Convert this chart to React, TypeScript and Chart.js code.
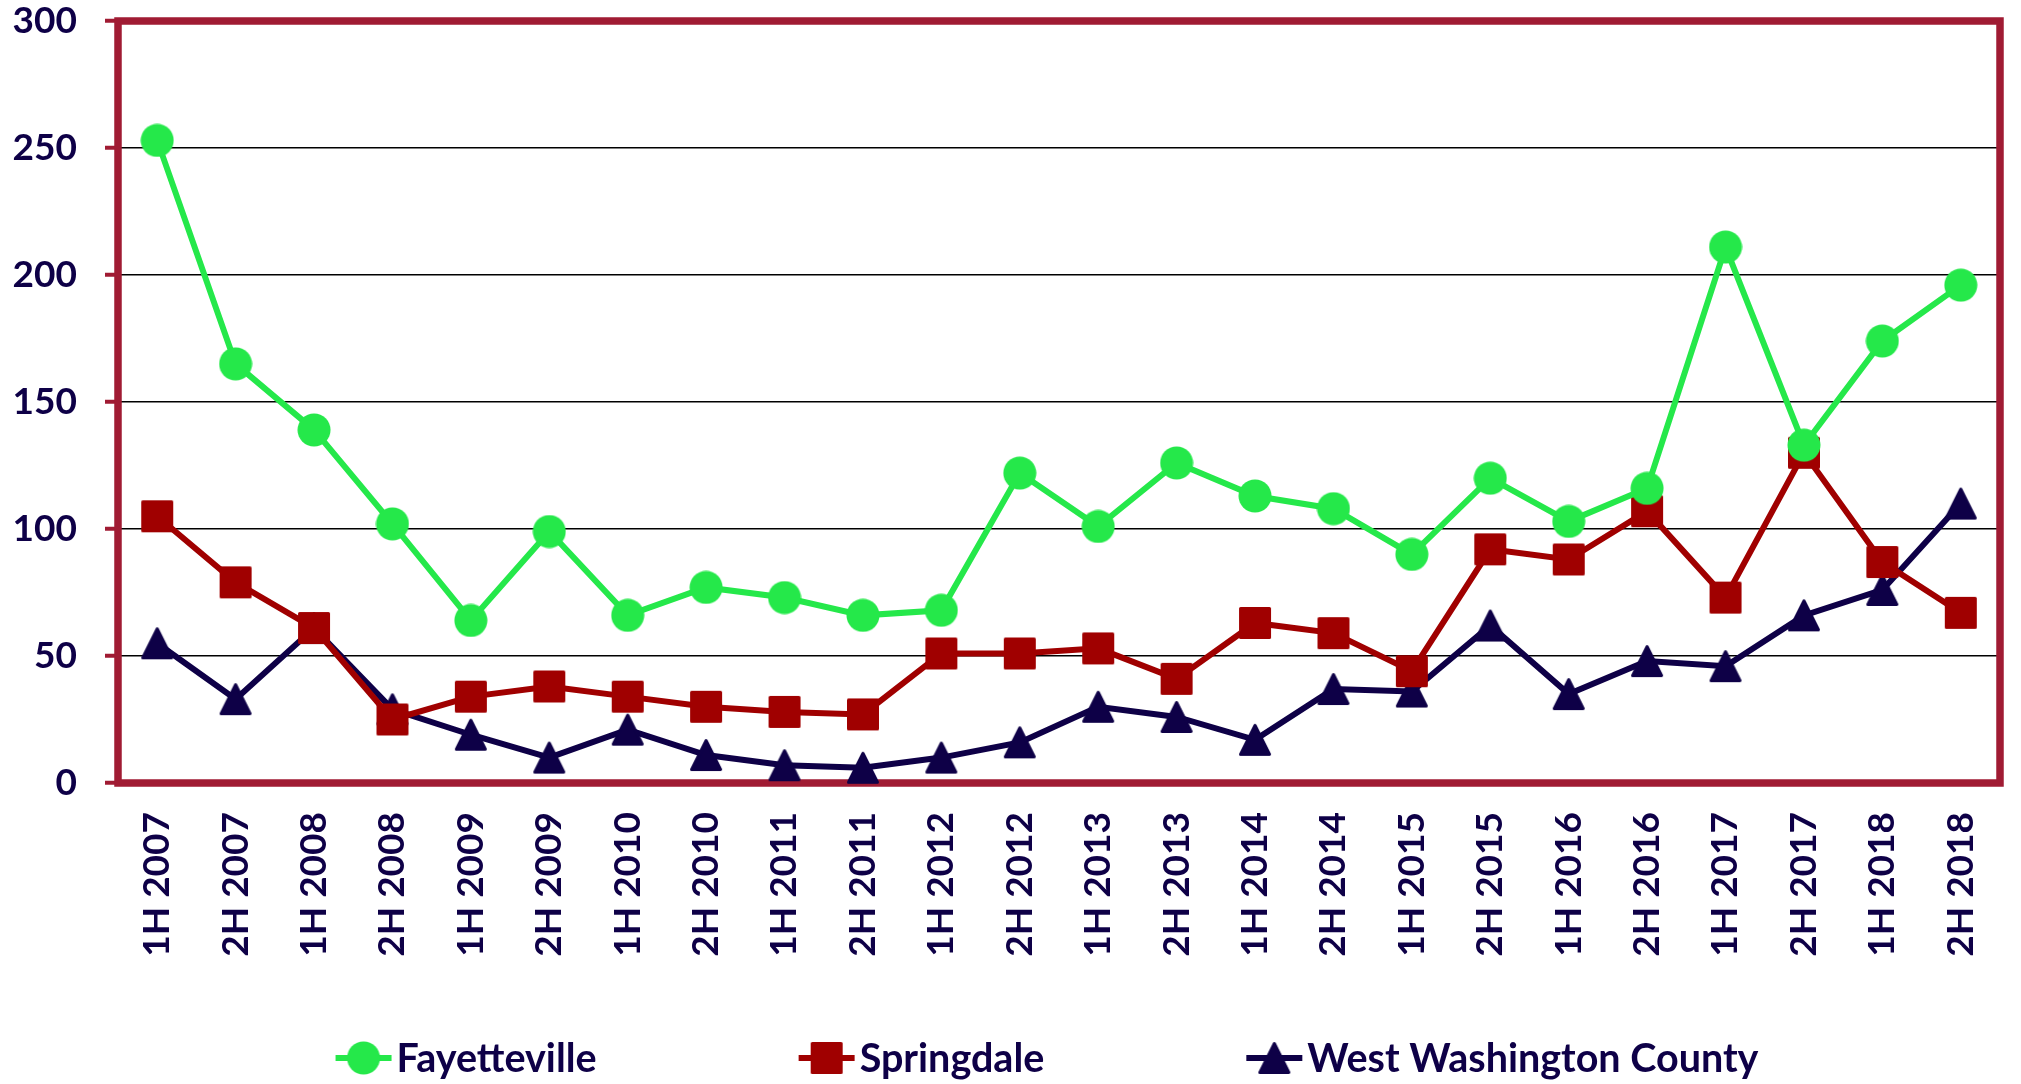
import React, { useEffect, useRef } from 'react';
import { Chart, registerables } from 'chart.js';

Chart.register(...registerables);

const categories = [
  '1H 2007', '2H 2007', '1H 2008', '2H 2008', '1H 2009', '2H 2009',
  '1H 2010', '2H 2010', '1H 2011', '2H 2011', '1H 2012', '2H 2012',
  '1H 2013', '2H 2013', '1H 2014', '2H 2014', '1H 2015', '2H 2015',
  '1H 2016', '2H 2016', '1H 2017', '2H 2017', '1H 2018', '2H 2018',
];
const fayetteville = [253, 165, 139, 102, 64, 99, 66, 77, 73, 66, 68, 122, 101, 126, 113, 108, 90, 120, 103, 116, 211, 133, 174, 196];
const springdale = [105, 79, 61, 25, 34, 38, 34, 30, 28, 27, 51, 51, 53, 41, 63, 59, 44, 92, 88, 107, 73, 130, 87, 67];
const westWashington = [55, 33, 61, 29, 19, 10, 21, 11, 7, 6, 10, 16, 30, 26, 17, 37, 36, 62, 35, 48, 46, 66, 76, 110];
const seriesNames = ['Fayetteville', 'Springdale', 'West Washington County'];
const yTicks = [0, 50, 100, 150, 200, 250, 300];

const GREEN = '#25E84A';
const RED = '#A00000';
const NAVY = '#0E0047';
const CRIMSON = '#A01B33';
const FONT = 'Lato';

function makeCircle(color: string) {
  const c = document.createElement('canvas');
  c.width = 34; c.height = 34;
  const ctx = c.getContext('2d')!;
  ctx.fillStyle = color;
  ctx.beginPath();
  ctx.arc(17, 17, 16.5, 0, Math.PI * 2);
  ctx.fill();
  return c;
}
function makeSquare(color: string) {
  const c = document.createElement('canvas');
  c.width = 34; c.height = 34;
  const ctx = c.getContext('2d')!;
  ctx.fillStyle = color; ctx.strokeStyle = color;
  ctx.lineWidth = 3; ctx.lineJoin = 'round';
  ctx.beginPath();
  ctx.rect(2.5, 2.5, 29, 29);
  ctx.fill(); ctx.stroke();
  return c;
}
function makeTriangle(color: string) {
  const c = document.createElement('canvas');
  c.width = 36; c.height = 34;
  const ctx = c.getContext('2d')!;
  ctx.fillStyle = color; ctx.strokeStyle = color;
  ctx.lineWidth = 3; ctx.lineJoin = 'round';
  ctx.beginPath();
  ctx.moveTo(18, 2.5); ctx.lineTo(32.5, 31.5); ctx.lineTo(3.5, 31.5); ctx.closePath();
  ctx.fill(); ctx.stroke();
  return c;
}

function zeroPadding(scale: any) {
  scale.paddingTop = 0;
  scale.paddingBottom = 0;
  scale.paddingLeft = 0;
  scale.paddingRight = 0;
}

export default function App() {
  const ref = useRef<HTMLCanvasElement>(null);
  useEffect(() => {
    document.body.style.margin = '0';
    document.body.style.overflow = 'hidden';
    const canvas = ref.current!;
    const markers = [makeCircle(GREEN), makeSquare(RED), makeTriangle(NAVY)];
    const colors = [GREEN, RED, NAVY];
    const values = [fayetteville, springdale, westWashington];

    const borderPlugin = {
      id: 'plotBorder',
      beforeDatasetsDraw(chart: any) {
        const { ctx, chartArea: a } = chart;
        ctx.save();
        ctx.strokeStyle = CRIMSON;
        ctx.lineWidth = 7.5;
        ctx.lineJoin = 'miter';
        ctx.strokeRect(a.left, a.top, a.right - a.left, a.bottom - a.top);
        ctx.restore();
      },
    };

    const legendPlugin = {
      id: 'customLegend',
      afterDraw(chart: any) {
        const ctx = chart.ctx;
        ctx.save();
        ctx.font = `bold 39.5px ${FONT}`;
        const lineLen = 56, textGap = 5, itemGap = 202;
        const widths = seriesNames.map((n) => ctx.measureText(n).width);
        const total = widths.reduce((s, w) => s + lineLen + textGap + w, 0) + itemGap * (seriesNames.length - 1);
        let x = 1047 - total / 2;
        const cy = 1058;
        seriesNames.forEach((name, i) => {
          ctx.strokeStyle = colors[i];
          ctx.lineWidth = 6;
          ctx.beginPath();
          ctx.moveTo(x, cy); ctx.lineTo(x + lineLen, cy);
          ctx.stroke();
          const m = markers[i];
          ctx.drawImage(m, x + lineLen / 2 - m.width / 2, cy - m.height / 2);
          ctx.fillStyle = NAVY;
          ctx.textBaseline = 'alphabetic';
          ctx.textAlign = 'left';
          ctx.fillText(name, x + lineLen + textGap, cy + 14);
          x += lineLen + textGap + widths[i] + itemGap;
        });
        ctx.restore();
      },
    };

    const chart = new Chart(canvas, {
      type: 'line',
      data: {
        labels: categories,
        datasets: values.map((v, i) => ({
          label: seriesNames[i],
          data: v,
          borderColor: colors[i],
          backgroundColor: colors[i],
          borderWidth: 6,
          pointStyle: markers[i] as any,
          pointRadius: 16,
          pointHoverRadius: 16,
          tension: 0,
          clip: false as any,
        })),
      },
      options: {
        animation: false,
        responsive: false,
        devicePixelRatio: 1,
        events: [],
        layout: { autoPadding: false, padding: { top: 21, right: 21, left: 0, bottom: 0 } },
        plugins: {
          legend: { display: false },
          tooltip: { enabled: false },
        },
        scales: {
          x: {
            offset: true,
            grid: { display: false, drawTicks: false },
            border: { display: false },
            ticks: {
              autoSkip: false,
              minRotation: 90,
              maxRotation: 90,
              padding: 29,
              color: NAVY,
              font: { family: FONT, size: 37, weight: 'bold' },
            },
            afterFit(scale: any) { scale.height = 301; zeroPadding(scale); },
          },
          y: {
            min: 0,
            max: 300,
            afterBuildTicks(scale: any) { scale.ticks = yTicks.map((v) => ({ value: v })); },
            grid: {
              color: '#000',
              lineWidth: 1.5,
              tickColor: CRIMSON,
              tickWidth: 4,
              tickLength: 13,
            },
            border: { display: false },
            ticks: {
              padding: 28,
              color: NAVY,
              font: { family: FONT, size: 37, weight: 'bold' },
            },
            afterFit(scale: any) { scale.width = 118; zeroPadding(scale); },
          },
        },
      },
      plugins: [borderPlugin, legendPlugin],
    });
    return () => chart.destroy();
  }, []);
  return (
    <div style={{ width: 2021, height: 1084 }}>
      <canvas ref={ref} width={2021} height={1084} style={{ display: 'block', width: 2021, height: 1084 }} />
    </div>
  );
}
